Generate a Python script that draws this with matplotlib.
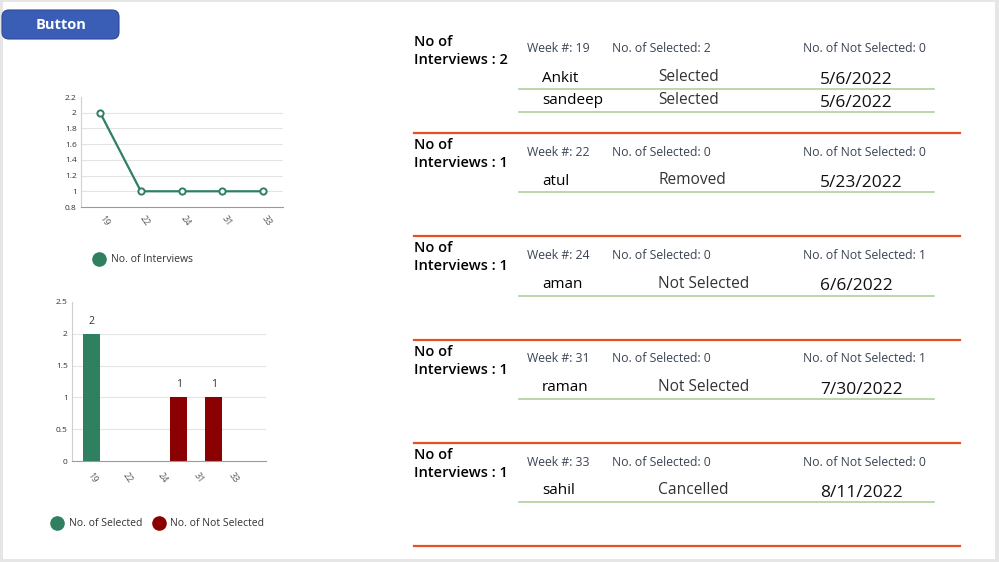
import numpy as np
import matplotlib
matplotlib.use("Agg")
import matplotlib.pyplot as plt
from matplotlib.patches import FancyBboxPatch, Rectangle
from matplotlib.lines import Line2D
from matplotlib.transforms import ScaledTranslation

plt.rcParams['font.family'] = ['Open Sans', 'DejaVu Sans']

# data
weeks = ['19', '22', '24', '31', '33']
interviews = [2, 1, 1, 1, 1]
selected = [2, 0, 0, 0, 0]
not_selected = [0, 0, 1, 1, 0]

names = [['Ankit', 'sandeep'], ['atul'], ['aman'], ['raman'], ['sahil']]
statuses = [['Selected', 'Selected'], ['Removed'], ['Not Selected'], ['Not Selected'], ['Cancelled']]
dates = [['5/6/2022', '5/6/2022'], ['5/23/2022'], ['6/6/2022'], ['7/30/2022'], ['8/11/2022']]

GREEN = '#2e8060'
RED = '#8b0000'
ORANGE = '#e8501f'
LIGHT_GREEN = '#a9cc8e'

W, H = 999, 562
fig = plt.figure(figsize=(W / 100, H / 100), dpi=100)
T = fig.dpi_scale_trans


def pt(x, y):
    # pixel (from top-left) -> inches
    return x / 100, (H - y) / 100


def axes_px(x0, y0, x1, y1):
    return fig.add_axes([x0 / W, 1 - y1 / H, (x1 - x0) / W, (y1 - y0) / H])


def txt(x, y, s, **kw):
    fig.text(*pt(x, y), s, transform=T, **kw)


def place_xlabels(ax, dx, dy):
    # rotated week labels, centred at an offset (px) from tick / axis bottom
    ax.tick_params(axis='x', pad=0)
    for lab in ax.get_xticklabels():
        lab.set_rotation(-55)
        lab.set_ha('center')
        lab.set_va('center')
        lab.set_fontsize(6.5)
        lab.set_color('#555555')
        lab.set_transform(lab.get_transform() + ScaledTranslation(dx / 100, -dy / 100, T))


# grey frame
fig.patch.set_facecolor('#e6e6e6')
fig.add_artist(Rectangle(pt(3, 559), 992 / 100, 557 / 100, transform=T,
                         facecolor='white', edgecolor='none', zorder=0))

# button
fig.add_artist(FancyBboxPatch(pt(2, 39), 117 / 100, 29 / 100,
                              boxstyle='round,pad=0,rounding_size=0.07',
                              transform=T, facecolor='#3a5db5', edgecolor='#2c4a95', lw=0.8))
txt(61, 25, 'Button', color='white', fontsize=10.5, fontweight='bold', ha='center', va='center')

# line chart
ax1 = axes_px(81, 97, 283, 207)
x = np.arange(len(weeks))
ax1.plot(x, interviews, color=GREEN, lw=1.6, marker='o', ms=4.5,
         mfc='white', mec=GREEN, mew=1.4, zorder=3)
ax1.set_xlim(-0.47, 4.49)
ax1.set_ylim(0.8, 2.2)
ax1.set_yticks(np.round(np.arange(0.8, 2.21, 0.2), 1))
ax1.set_yticklabels(['0.8', '1', '1.2', '1.4', '1.6', '1.8', '2', '2.2'])
ax1.set_xticks(x)
ax1.set_xticklabels(weeks)
for yv in [1, 1.2, 1.4, 1.6, 1.8, 2.0]:
    ax1.axhline(yv, color='#e4e4e4', lw=0.8, zorder=0)

# bar chart
ax2 = axes_px(72, 302, 266, 461)
bw = 0.48
b1 = ax2.bar(x - bw / 2, selected, bw, color=GREEN)
b2 = ax2.bar(x + bw / 2, not_selected, bw, color=RED)
for bars, vals in [(b1, selected), (b2, not_selected)]:
    for b, v in zip(bars, vals):
        if v:
            ax2.annotate(str(v), (b.get_x() + b.get_width() / 2, v), xytext=(0, 9),
                         textcoords='offset points', ha='center', va='center',
                         fontsize=7.5, color='#333333')
ax2.set_xlim(-0.78, 4.72)
ax2.set_ylim(0, 2.5)
ax2.set_yticks([0, 0.5, 1, 1.5, 2, 2.5])
ax2.set_yticklabels(['0', '0.5', '1', '1.5', '2', '2.5'])
ax2.set_xticks(x)
ax2.set_xticklabels(weeks)
for yv in [0.5, 1, 1.5, 2]:
    ax2.axhline(yv, color='#e4e4e4', lw=0.8, zorder=0)

for ax in (ax1, ax2):
    ax.set_facecolor('none')
    for s in ('top', 'right'):
        ax.spines[s].set_visible(False)
    ax.spines['left'].set_color('#d0d0d0')
    ax.spines['bottom'].set_color('#9a9a9a')
    ax.tick_params(length=0, labelsize=6, colors='#333333', pad=3)
    ax.set_axisbelow(True)

place_xlabels(ax1, 4, 14)
place_xlabels(ax2, -7, 17)

# legends
def legend_dot(x, y, color):
    fig.add_artist(Line2D([x / 100], [(H - y) / 100], transform=T, marker='o', ms=9.5,
                          color=color, lw=0))

legend_dot(99, 259, GREEN)
txt(111, 259, 'No. of Interviews', fontsize=7.5, color='#333333', va='center')
legend_dot(57, 523, GREEN)
txt(69, 523, 'No. of Selected', fontsize=7.5, color='#333333', va='center')
legend_dot(159, 523, RED)
txt(170, 523, 'No. of Not Selected', fontsize=7.5, color='#333333', va='center')

# gallery
for i in range(len(weeks)):
    dy = i * 103.25
    txt(414, 42 + dy, 'No of', fontsize=10.5, fontweight='semibold', va='center')
    txt(414, 60 + dy, 'Interviews : %d' % interviews[i], fontsize=10.5,
        fontweight='semibold', va='center')
    txt(527, 49 + dy, 'Week #: %s' % weeks[i], fontsize=8.8, color='#3a4454', va='center')
    txt(612, 49 + dy, 'No. of Selected: %d' % selected[i], fontsize=8.8, color='#3a4454', va='center')
    txt(803, 49 + dy, 'No. of Not Selected: %d' % not_selected[i], fontsize=8.8,
        color='#3a4454', va='center')
    for j in range(len(names[i])):
        ry = dy + 23 * j
        txt(542, 78 + ry, names[i][j], fontsize=11, fontweight='medium', va='center')
        txt(658, 77 + ry, statuses[i][j], fontsize=11.2, color='#333333', va='center')
        txt(820, 80 + ry, dates[i][j], fontsize=12.5, color='#111111', va='center')
        fig.add_artist(Line2D([5.19, 9.34], [(H - 89 - ry) / 100] * 2, transform=T,
                              color=LIGHT_GREEN, lw=1.1))
    fig.add_artist(Line2D([4.14, 9.60], [(H - 133 - dy) / 100] * 2, transform=T,
                          color=ORANGE, lw=1.6))

fig.savefig('out.png', dpi=100, facecolor=fig.get_facecolor())
